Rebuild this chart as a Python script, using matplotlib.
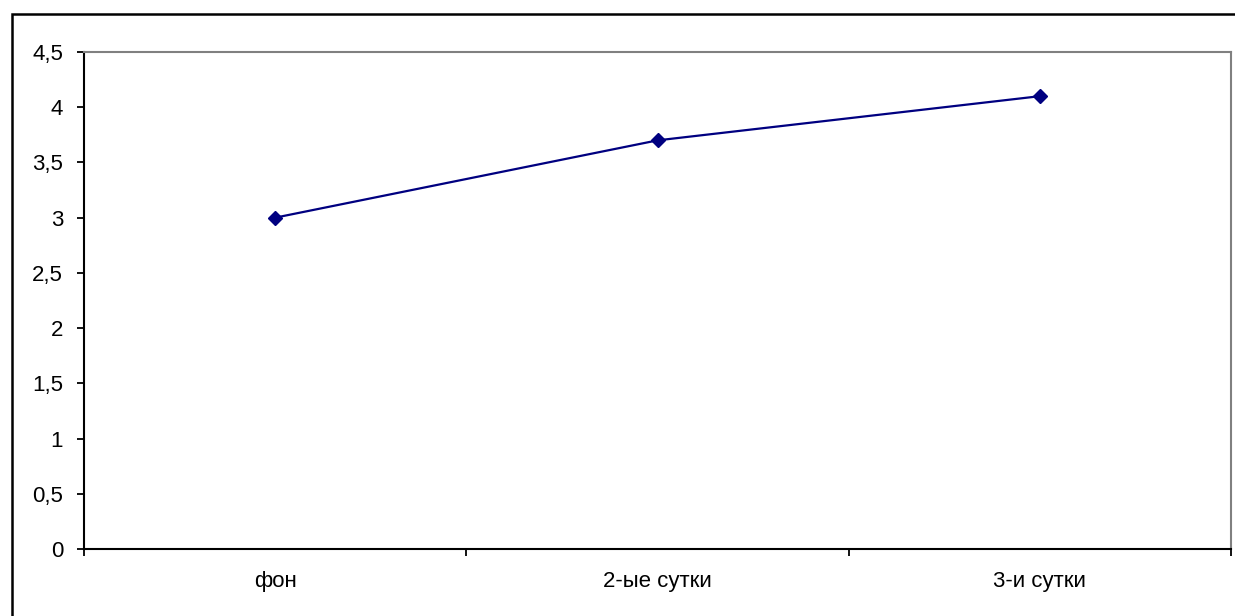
import matplotlib
matplotlib.use("Agg")
import matplotlib.pyplot as plt
from matplotlib.patches import Rectangle
from matplotlib.ticker import FuncFormatter

categories = ["фон", "2-ые сутки", "3-и сутки"]
values = [3.0, 3.7, 4.1]
y_ticks = [0, 0.5, 1, 1.5, 2, 2.5, 3, 3.5, 4, 4.5]

plt.rcParams['font.family'] = ['Liberation Sans', 'DejaVu Sans']

W, H = 1235, 616
fig = plt.figure(figsize=(W / 100, H / 100), dpi=100)

# outer chart border (cut off at right and bottom)
fig.patches.append(Rectangle((12 / W, -0.2), 1.5, 1.2 - 14 / H, transform=fig.transFigure,
                             fill=False, edgecolor="black", linewidth=1.8, clip_on=False))

ax = fig.add_axes([84 / W, (H - 549) / H, (1231 - 84) / W, (549 - 52) / H])

x = [i + 0.5 for i in range(len(categories))]
ax.plot(x, values, color="#000080", linewidth=1.6, marker="D", markersize=7.5,
        markerfacecolor="#000080", markeredgecolor="#000080")

ax.set_xlim(0, len(categories))
ax.set_ylim(0, 4.5)
ax.set_yticks(y_ticks)
ax.yaxis.set_major_formatter(FuncFormatter(lambda v, p: ("%g" % v).replace(".", ",")))

ax.set_xticks(range(len(categories) + 1))
ax.set_xticklabels([])
ax.set_xticks(x, minor=True)
ax.set_xticklabels(categories, minor=True)
ax.tick_params(axis="x", which="minor", length=0, pad=16, labelsize=16)
ax.tick_params(axis="x", which="major", length=5, width=1.3, direction="out")
ax.tick_params(axis="y", length=5, width=1.3, direction="out", labelsize=16, pad=10)

for s in ["left", "bottom"]:
    ax.spines[s].set_color("black")
    ax.spines[s].set_linewidth(1.5)
for s in ["top", "right"]:
    ax.spines[s].set_color("#808080")
    ax.spines[s].set_linewidth(1.5)

fig.savefig("out.png", dpi=100)
